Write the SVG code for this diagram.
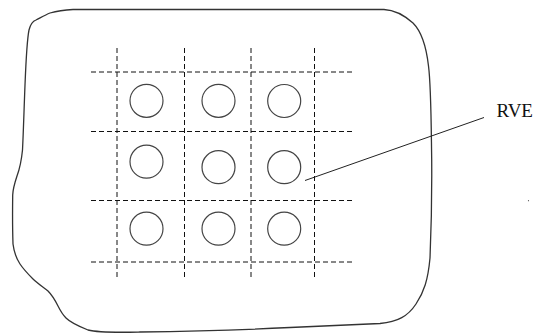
<svg xmlns="http://www.w3.org/2000/svg" width="543" height="334" viewBox="0 0 543 334">
<style>
.outline{fill:none;stroke:#333;stroke-width:1.3;stroke-linejoin:round}
.grid{stroke:#111;stroke-width:1;stroke-dasharray:5,3;fill:none}
.inc{fill:none;stroke:#444;stroke-width:1.2}
.lead{stroke:#222;stroke-width:1;fill:none}
.lbl{font-family:"Liberation Serif",serif;font-size:19px;fill:#111}
</style>
<rect width="543" height="334" fill="#fff"/>
<g id="domain">
<path class="outline" d="M73,9.5 L384,9.5 C394,10 404,15 413,23 C421,31 426,44 428.5,66 C431,85 431,110 431.7,160 C432,200 431,235 430,258 C428,280 424,292 416,304 C408,316 398,322 380,323.5 C350,325 320,326 290,327.5 C240,330 180,331.5 140,332 C118,332.5 100,333 88,330 C78,326 70,322 66,318 C62,314 60,310 58,306 C55,300 52,295 48,291 C43,287 37,283 33,279 C28,274 24,270 20,264 C16,258 14,252 13,244 C12.5,230 12.5,210 12.7,195 C13,188 15,182 17,176 C20,168 21.5,160 22.5,150 C23.5,130 24,110 25,85 C26,60 27,40 29,30 C30.5,24 33,21 36,20 C40,18 45,15 50,13 C57,11 63,10 73,9.5 Z"/>
</g>
<g id="grid">
<line class="grid" x1="91" y1="72" x2="354" y2="72"/>
<line class="grid" x1="91" y1="131.5" x2="354" y2="131.5"/>
<line class="grid" x1="91" y1="200.5" x2="354" y2="200.5"/>
<line class="grid" x1="91" y1="262" x2="354" y2="262"/>
<line class="grid" x1="117" y1="48" x2="117" y2="277"/>
<line class="grid" x1="184.5" y1="48" x2="184.5" y2="277"/>
<line class="grid" x1="251" y1="48" x2="251" y2="277"/>
<line class="grid" x1="314.5" y1="48" x2="314.5" y2="277"/>
</g>
<g id="inclusions">
<circle class="inc" cx="146.5" cy="100.8" r="16.5"/>
<circle class="inc" cx="218.5" cy="100.8" r="16.5"/>
<circle class="inc" cx="284.2" cy="101" r="16.5"/>
<circle class="inc" cx="146.5" cy="161.7" r="16.5"/>
<circle class="inc" cx="218.5" cy="167.2" r="16.5"/>
<circle class="inc" cx="284.2" cy="167.2" r="16.5"/>
<circle class="inc" cx="146.5" cy="228.7" r="16.5"/>
<circle class="inc" cx="218.5" cy="228.7" r="16.5"/>
<circle class="inc" cx="284.2" cy="228.7" r="16.5"/>
</g>
<g id="connectors">
<line class="lead" x1="305" y1="180.5" x2="484" y2="117.5"/>
</g>
<g id="label-rve">
<text class="lbl" x="496.5" y="116.5">RVE</text>
</g>
<circle cx="528.5" cy="200.7" r="0.6" fill="#555"/>
</svg>
